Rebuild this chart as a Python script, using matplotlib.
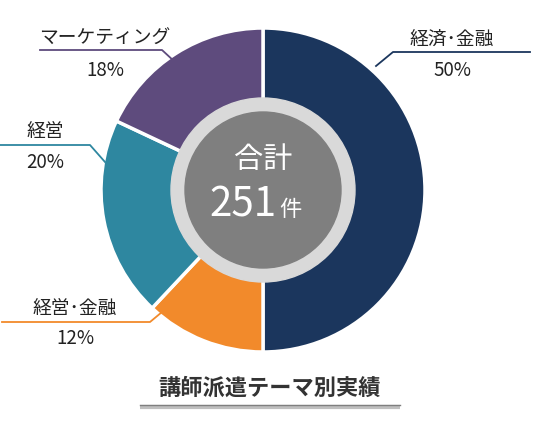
import matplotlib.pyplot as plt
from matplotlib.patches import Circle

plt.rcParams['font.family'] = ['Noto Sans CJK JP', 'DejaVu Sans']

labels = ['経済･金融', '経営･金融', '経営', 'マーケティング']
shares = [50, 12, 20, 18]
colors = ['#1b365d', '#f28a2b', '#2e87a0', '#5e4b7d']
total = 251
title = '講師派遣テーマ別実績'

W, H = 539, 430
fig = plt.figure(figsize=(W / 100, H / 100), dpi=100)
ax = fig.add_axes([0, 0, 1, 1])


def Y(y):
    return H - y


cx, cy, r = 263, Y(190), 162
ax.pie(shares, colors=colors, startangle=90, counterclock=False,
       center=(cx, cy), radius=r, frame=True,
       wedgeprops=dict(edgecolor='white', linewidth=2.5))
ax.set_xlim(0, W)
ax.set_ylim(0, H)
ax.set_aspect('equal')
ax.axis('off')
ax.add_patch(Circle((cx, cy), 92, color='#d9d9d9', zorder=3))
ax.add_patch(Circle((cx, cy), 78, color='#7f7f7f', zorder=4))
ax.text(cx, Y(160), '合計', color='white', fontsize=21, ha='center', va='center', zorder=5)
ax.text(cx + 14, Y(205), str(total), color='white', fontsize=29, ha='right', va='center', zorder=5)
ax.text(cx + 16, Y(209), '件', color='white', fontsize=16, ha='left', va='center', zorder=5)

# leader lines: (xs, ys, label x, label y, pct y)
leaders = [
    ([376, 393, 530], [66, 52, 52], 452, 40, 70),
    ([162, 150, 2], [312, 322, 322], 75, 308, 338),
    ([105, 90, 0], [162, 145, 145], 45, 132, 162),
    ([175, 162, 40], [62, 50, 50], 105, 38, 70),
]
for (xs, ys, tx, ly, py), lab, sh, c in zip(leaders, labels, shares, colors):
    ax.plot(xs, [Y(v) for v in ys], color=c, lw=1.3)
    ax.text(tx, Y(ly), lab, fontsize=13.5, ha='center', va='center', color='#222222')
    ax.text(tx, Y(py), f'{sh}%', fontsize=13.5, ha='center', va='center', color='#222222')

ax.text(270, Y(388), title, fontsize=16, fontweight='bold', ha='center', va='center', color='#333333')
ax.plot([140, 400], [Y(407), Y(407)], color='#bfbfbf', lw=3, solid_capstyle='butt')
ax.plot([140, 400], [Y(405), Y(405)], color='#7f7f7f', lw=1)

fig.savefig('out.png', dpi=100)
